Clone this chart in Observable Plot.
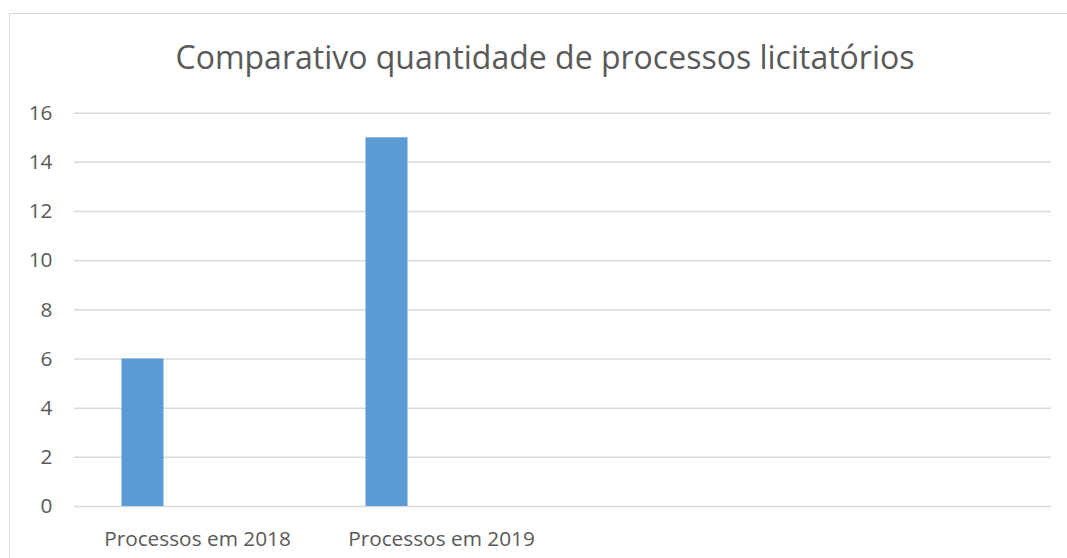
<!DOCTYPE html>
<html>
<head>
<meta charset="utf-8">
<script src="https://cdn.jsdelivr.net/npm/d3@7"></script>
<script src="https://cdn.jsdelivr.net/npm/@observablehq/plot@0.6"></script>
<style>
  html, body { margin: 0; padding: 0; background: #fff; }
  #wrap { position: relative; width: 1067px; height: 558px; overflow: hidden; font-family: "Open Sans", sans-serif; }
  #box { position: absolute; left: 9px; top: 13px; width: 1070px; height: 600px; border: 1.5px solid #d9d9d9; box-sizing: border-box; }
  #title { position: absolute; left: 0; width: 1090px; top: 33px; text-align: center; font-size: 32px; color: #595959; line-height: 48px; white-space: nowrap; }
  #chart { position: absolute; left: 0; top: 90px; }
</style>
</head>
<body>
<div id="wrap">
  <div id="box"></div>
  <div id="title">Comparativo quantidade de processos licitatórios</div>
  <div id="chart"></div>
</div>
<script>
const categories = ["Processos em 2018", "Processos em 2019", " ", "  "];
const values = [6, 15, null, null];
const yTicks = [0, 2, 4, 6, 8, 10, 12, 14, 16];

const data = categories.map((c, i) => ({category: c, value: values[i]}));

const chart = Plot.plot({
  width: 1067,
  height: 468,
  marginLeft: 74,
  marginRight: 16,
  marginTop: 22.7,
  marginBottom: 52,
  style: {fontFamily: "Open Sans, sans-serif", fontSize: "20.8px", color: "#595959", background: "transparent"},
  x: {domain: categories, padding: 0, label: null},
  y: {domain: [0, 16], ticks: yTicks, label: null},
  marks: [
    Plot.ruleY(yTicks, {stroke: "#d9d9d9", strokeWidth: 1.5}),
    Plot.barY(data.filter(d => d.value != null), {
      x: "category", y: "value", fill: "#5b9bd5",
      insetLeft: 46.5, insetRight: 155.5
    }),
    Plot.axisY({ticks: yTicks, tickSize: 0, tickPadding: 22, fill: "#595959", fontSize: 20.8}),
    Plot.axisX({tickSize: 0, tickPadding: 25, fill: "#595959", fontSize: 20.8})
  ]
});
document.getElementById("chart").appendChild(chart);
</script>
</body>
</html>
